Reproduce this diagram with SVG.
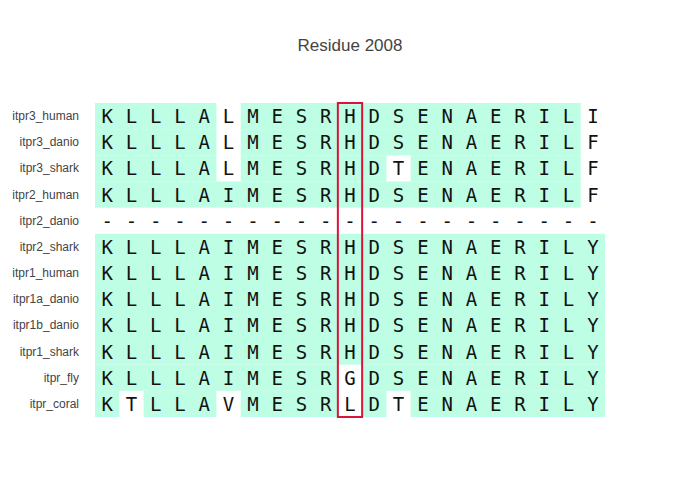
<svg xmlns="http://www.w3.org/2000/svg" width="700" height="500" viewBox="0 0 700 500">
<style>
.c{fill:#bdfee4}
.lab{font-family:"Liberation Sans",Arial,sans-serif;font-size:12px;fill:#444;text-anchor:end}
.seq{font-family:"DejaVu Sans Mono",monospace;font-size:19px;fill:#111;text-anchor:middle}
.title{font-family:"Liberation Sans",Arial,sans-serif;font-size:17px;fill:#444;text-anchor:middle}
</style>
<defs>
<g id="xs"></g>
</defs>
<rect width="700" height="500" fill="#fff"/>
<text class="title" x="350" y="51">Residue 2008</text>
<g id="cells">
<rect class="c" x="95" y="103" width="121.43" height="26.17"/><rect class="c" x="240.71" y="103" width="340" height="26.17"/>
<rect class="c" x="95" y="129.17" width="121.43" height="26.17"/><rect class="c" x="240.71" y="129.17" width="340" height="26.17"/>
<rect class="c" x="95" y="155.33" width="121.43" height="26.17"/><rect class="c" x="240.71" y="155.33" width="145.72" height="26.17"/><rect class="c" x="410.71" y="155.33" width="170" height="26.17"/>
<rect class="c" x="95" y="181.5" width="485.71" height="26.17"/>
<rect class="c" x="95" y="233.83" width="510" height="130.84"/>
<rect class="c" x="95" y="364.67" width="242.86" height="26.16"/><rect class="c" x="362.14" y="364.67" width="242.86" height="26.16"/>
<rect class="c" x="95" y="390.83" width="24.29" height="26.17"/><rect class="c" x="143.57" y="390.83" width="72.86" height="26.17"/><rect class="c" x="240.71" y="390.83" width="97.15" height="26.17"/><rect class="c" x="362.14" y="390.83" width="24.29" height="26.17"/><rect class="c" x="410.71" y="390.83" width="194.29" height="26.17"/>
</g>
<g id="row-itpr3_human"><text class="lab" x="79" y="120.1">itpr3_human</text><text class="seq" y="123.1" x="107.14 131.43 155.71 180 204.29 228.57 252.86 277.14 301.43 325.71 350 374.29 398.57 422.86 447.14 471.43 495.71 520 544.29 568.57 592.86">KLLLALMESRHDSENAERILI</text></g>
<g id="row-itpr3_danio"><text class="lab" x="79" y="146.3">itpr3_danio</text><text class="seq" y="149.3" x="107.14 131.43 155.71 180 204.29 228.57 252.86 277.14 301.43 325.71 350 374.29 398.57 422.86 447.14 471.43 495.71 520 544.29 568.57 592.86">KLLLALMESRHDSENAERILF</text></g>
<g id="row-itpr3_shark"><text class="lab" x="79" y="172.4">itpr3_shark</text><text class="seq" y="175.4" x="107.14 131.43 155.71 180 204.29 228.57 252.86 277.14 301.43 325.71 350 374.29 398.57 422.86 447.14 471.43 495.71 520 544.29 568.57 592.86">KLLLALMESRHDTENAERILF</text></g>
<g id="row-itpr2_human"><text class="lab" x="79" y="198.6">itpr2_human</text><text class="seq" y="201.6" x="107.14 131.43 155.71 180 204.29 228.57 252.86 277.14 301.43 325.71 350 374.29 398.57 422.86 447.14 471.43 495.71 520 544.29 568.57 592.86">KLLLAIMESRHDSENAERILF</text></g>
<g id="row-itpr2_danio"><text class="lab" x="79" y="224.8">itpr2_danio</text><text class="seq" y="227.8" x="107.14 131.43 155.71 180 204.29 228.57 252.86 277.14 301.43 325.71 350 374.29 398.57 422.86 447.14 471.43 495.71 520 544.29 568.57 592.86">---------------------</text></g>
<g id="row-itpr2_shark"><text class="lab" x="79" y="250.9">itpr2_shark</text><text class="seq" y="253.9" x="107.14 131.43 155.71 180 204.29 228.57 252.86 277.14 301.43 325.71 350 374.29 398.57 422.86 447.14 471.43 495.71 520 544.29 568.57 592.86">KLLLAIMESRHDSENAERILY</text></g>
<g id="row-itpr1_human"><text class="lab" x="79" y="277.1">itpr1_human</text><text class="seq" y="280.1" x="107.14 131.43 155.71 180 204.29 228.57 252.86 277.14 301.43 325.71 350 374.29 398.57 422.86 447.14 471.43 495.71 520 544.29 568.57 592.86">KLLLAIMESRHDSENAERILY</text></g>
<g id="row-itpr1a_danio"><text class="lab" x="79" y="303.3">itpr1a_danio</text><text class="seq" y="306.3" x="107.14 131.43 155.71 180 204.29 228.57 252.86 277.14 301.43 325.71 350 374.29 398.57 422.86 447.14 471.43 495.71 520 544.29 568.57 592.86">KLLLAIMESRHDSENAERILY</text></g>
<g id="row-itpr1b_danio"><text class="lab" x="79" y="329.4">itpr1b_danio</text><text class="seq" y="332.4" x="107.14 131.43 155.71 180 204.29 228.57 252.86 277.14 301.43 325.71 350 374.29 398.57 422.86 447.14 471.43 495.71 520 544.29 568.57 592.86">KLLLAIMESRHDSENAERILY</text></g>
<g id="row-itpr1_shark"><text class="lab" x="79" y="355.6">itpr1_shark</text><text class="seq" y="358.6" x="107.14 131.43 155.71 180 204.29 228.57 252.86 277.14 301.43 325.71 350 374.29 398.57 422.86 447.14 471.43 495.71 520 544.29 568.57 592.86">KLLLAIMESRHDSENAERILY</text></g>
<g id="row-itpr_fly"><text class="lab" x="79" y="381.8">itpr_fly</text><text class="seq" y="384.8" x="107.14 131.43 155.71 180 204.29 228.57 252.86 277.14 301.43 325.71 350 374.29 398.57 422.86 447.14 471.43 495.71 520 544.29 568.57 592.86">KLLLAIMESRGDSENAERILY</text></g>
<g id="row-itpr_coral"><text class="lab" x="79" y="407.9">itpr_coral</text><text class="seq" y="410.9" x="107.14 131.43 155.71 180 204.29 228.57 252.86 277.14 301.43 325.71 350 374.29 398.57 422.86 447.14 471.43 495.71 520 544.29 568.57 592.86">KTLLAVMESRLDTENAERILY</text></g>
<g id="highlight"><rect x="337.86" y="103" width="24.28" height="314" fill="none" stroke="#dc143c" stroke-width="2"/></g>
</svg>
